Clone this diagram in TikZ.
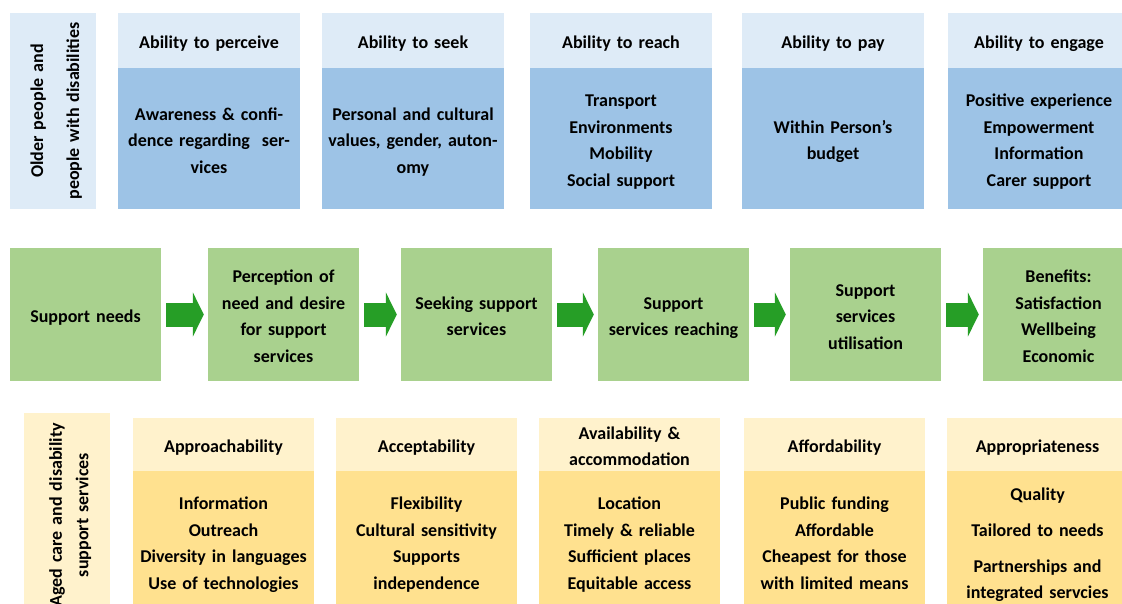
\documentclass[tikz,border=0pt]{standalone}
\usepackage{fontspec}
\setmainfont{Carlito}
\usetikzlibrary{arrows.meta}

\definecolor{headblue}{HTML}{DEEBF7}
\definecolor{bodyblue}{HTML}{9DC3E6}
\definecolor{stepgreen}{HTML}{A9D18E}
\definecolor{flowgreen}{RGB}{38,158,38}
\definecolor{headyellow}{HTML}{FFF2CC}
\definecolor{bodyyellow}{HTML}{FFE18F}

\tikzset{
  box/.style={rectangle, inner sep=0pt, align=center,
    font=\bfseries\fontsize{18}{26.5}\selectfont,
    execute at begin node={\rule{0pt}{21pt}},
    execute at end node={\rule[-5pt]{0pt}{5pt}}},
  ability/.style={box, fill=headblue, text width=180pt,
    minimum width=182pt, minimum height=55pt},
  abilitybody/.style={ability, fill=bodyblue, minimum height=141pt},
  stage/.style={box, fill=stepgreen, text width=149pt,
    minimum width=151pt, minimum height=133pt},
  service/.style={box, fill=headyellow, text width=179pt,
    minimum width=181pt, minimum height=53pt},
  servicebody/.style={service, fill=bodyyellow, minimum height=141pt},
  side/.style={box, rotate=90, text width=194pt, minimum height=86pt},
  flow/.style={flowgreen, line width=24pt, -{Triangle[length=11pt,width=44pt]},
    shorten <=5pt, shorten >=4pt}
}

\begin{document}
\begin{tikzpicture}[x=1pt,y=-1pt]
  \clip (0,0) rectangle (1122,603);
  \fill[white] (0,0) rectangle (1122,603);

  % people side
  \node[side, fill=headblue, minimum width=196pt,
    font=\bfseries\fontsize{18}{36}\selectfont] (people) at (53,111)
    {Older people and\\people with disabilities};

  \node[ability] (perceive) at (209,40.5) {Ability to perceive};
  \node[abilitybody] (perceiveb) at (209,138.5)
    {Awareness \& confi-\\dence regarding\ \ ser-\\vices};
  \node[ability] (seek) at (413,40.5) {Ability to seek};
  \node[abilitybody] (seekb) at (413,138.5)
    {Personal and cultural\\values, gender, auton-\\omy};
  \node[ability] (reach) at (621,40.5) {Ability to reach};
  \node[abilitybody] (reachb) at (621,138.5)
    {Transport\\Environments\\Mobility\\Social support};
  \node[ability] (pay) at (833,40.5) {Ability to pay};
  \node[abilitybody] (payb) at (833,138.5) {Within Person’s\\budget};
  \node[ability] (engage) at (1039,40.5) {Ability to engage};
  \node[abilitybody] (engageb) at (1039,138.5)
    {Positive experience\\Empowerment\\Information\\Carer support};

  % access pathway
  \node[stage] (needs) at (85.5,314.5) {Support needs};
  \node[stage] (desire) at (283.5,314.5)
    {Perception of\\need and desire\\for support\\services};
  \node[stage] (seeking) at (476.5,314.5) {Seeking support\\services};
  \node[stage] (reaching) at (673.5,314.5) {Support\\services reaching};
  \node[stage] (utilise) at (865.5,314.5) {Support\\services\\utilisation};
  \node[stage] (benefits) at (1058.5,314.5)
    {Benefits:\\Satisfaction\\Wellbeing\\Economic};
  \foreach \a/\b in {needs/desire, desire/seeking, seeking/reaching,
      reaching/utilise, utilise/benefits}
    \draw[flow] (\a.east) -- (\b.west);

  % services side
  \node[side, fill=headyellow, minimum width=204pt] (services) at (67,515)
    {Aged care and disability\\support services};

  \node[service] (approach) at (223.5,444.5) {Approachability};
  \node[servicebody] (approachb) at (223.5,541.5)
    {Information\\Outreach\\Diversity in languages\\Use of technologies};
  \node[service] (accept) at (426.5,444.5) {Acceptability};
  \node[servicebody] (acceptb) at (426.5,541.5)
    {Flexibility\\Cultural sensitivity\\Supports\\independence};
  \node[service] (avail) at (629.5,444.5) {Availability \&\\accommodation};
  \node[servicebody] (availb) at (629.5,541.5)
    {Location\\Timely \& reliable\\Sufficient places\\Equitable access};
  \node[service] (afford) at (834.5,444.5) {Affordability};
  \node[servicebody] (affordb) at (834.5,541.5)
    {Public funding\\Affordable\\Cheapest for those\\with limited means};
  \node[service] (approp) at (1037.5,444.5) {Appropriateness};
  \node[servicebody] (appropb) at (1037.5,541.5)
    {Quality\\[9.5pt]Tailored to needs\\[9.5pt]Partnerships and\\integrated servcies};
\end{tikzpicture}
\end{document}
